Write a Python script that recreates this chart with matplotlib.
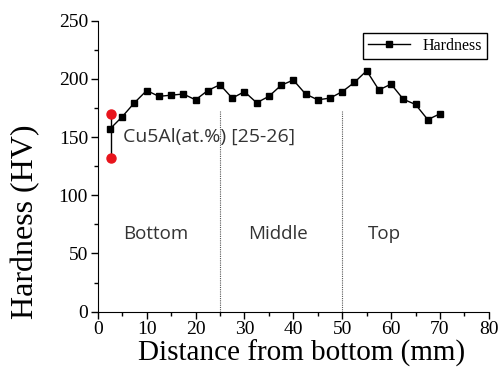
import numpy as np
import matplotlib
matplotlib.use("Agg")
from matplotlib import pyplot as plt
from matplotlib.ticker import MultipleLocator

# hardness profile
distance = [2.5, 5, 7.5, 10, 12.5, 15, 17.5, 20, 22.5, 25, 27.5, 30, 32.5, 35,
            37.5, 40, 42.5, 45, 47.5, 50, 52.5, 55, 57.5, 60, 62.5, 65, 67.5, 70]
hardness = [157, 167.5, 179.5, 190, 185, 186, 187, 182, 190, 195, 183.5, 189,
            179.5, 185, 194.5, 199, 187, 182, 183.5, 189, 197, 207, 190.5,
            195.5, 182.5, 178, 165, 170]

# literature range for Cu5Al
ref_x = [2.7, 2.7]
ref_hv = [170, 132]

zones = ["Bottom", "Middle", "Top"]
zone_x = [5.2, 30.8, 55.3]
zone_bounds = [25, 50]

serif = ["Liberation Serif", "DejaVu Serif"]
sans = ["Open Sans", "DejaVu Sans"]

fig = plt.figure(figsize=(5.04, 3.76), dpi=100)
ax = fig.add_axes([0.194, 0.171, 0.776, 0.774])

ax.plot(distance, hardness, color="black", lw=1, marker="s", markersize=5,
        label="Hardness", zorder=5)
ax.plot(ref_x, ref_hv, color="black", lw=1, zorder=3)
ax.plot(ref_x, ref_hv, ls="none", marker="o", markersize=6.5, color="#e8141c",
        zorder=4)

for b in zone_bounds:
    ax.plot([b, b], [0, 172], color="#555555", lw=0.8, ls=(0, (1, 1)))

for name, zx in zip(zones, zone_x):
    ax.text(zx, 67, name, fontsize=13.5, family=sans, color="#333333",
            va="center", ha="left")

ax.text(5.2, 150, "Cu5Al(at.%) [25-26]", fontsize=14, family=sans,
        color="#333333", va="center", ha="left")

ax.set_xlim(0, 80)
ax.set_ylim(0, 250)
ax.xaxis.set_major_locator(MultipleLocator(10))
ax.xaxis.set_minor_locator(MultipleLocator(5))
ax.yaxis.set_major_locator(MultipleLocator(50))
ax.yaxis.set_minor_locator(MultipleLocator(25))
ax.tick_params(which="major", direction="out", length=5, width=1,
               labelsize=14, pad=2)
ax.tick_params(which="minor", direction="out", length=3, width=1)
for lab in ax.get_xticklabels() + ax.get_yticklabels():
    lab.set_family(serif)

ax.spines["top"].set_visible(False)
ax.spines["right"].set_visible(False)

ax.set_xlabel("Distance from bottom (mm)", fontsize=21, family=serif,
              labelpad=1)
ax.set_ylabel("Hardness (HV)", fontsize=23, family=serif, labelpad=13)
ax.xaxis.label.set_x(0.52)
ax.yaxis.label.set_y(0.31)

leg = ax.legend(loc="upper right", bbox_to_anchor=(1.015, 0.985),
                prop={"family": serif, "size": 11.5}, handlelength=2.6,
                fancybox=False, framealpha=1, borderpad=0.3)
leg.get_frame().set_edgecolor("black")
leg.get_frame().set_linewidth(1)

fig.savefig("out.png", dpi=100)
